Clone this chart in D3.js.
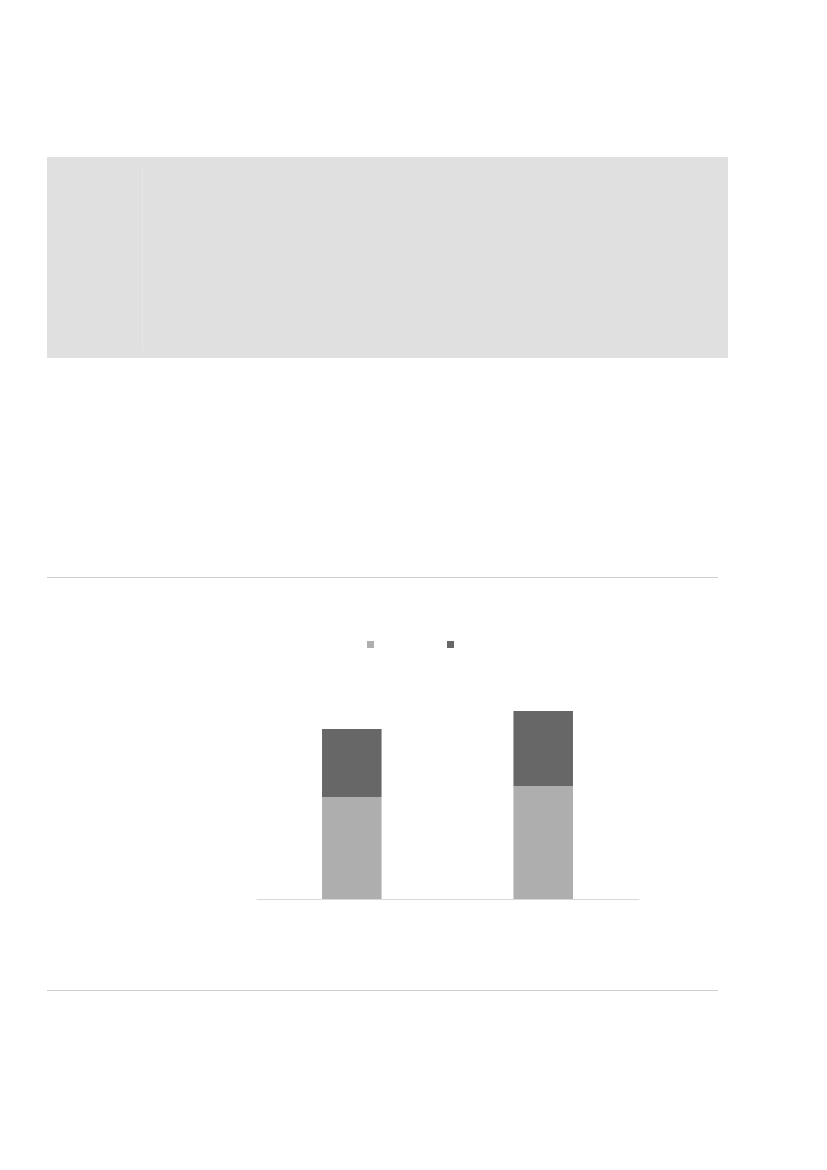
<!DOCTYPE html>
<html>
<head>
<meta charset="utf-8">
<script src="https://cdn.jsdelivr.net/npm/d3@7"></script>
<style>
  html, body { margin: 0; padding: 0; background: #fff; }
  svg { display: block; }
</style>
</head>
<body>
<svg id="page" width="827" height="1170"></svg>
<script>
// data (no labels are shown in the reference)
const categories = ["A", "B"];
const seriesNames = ["lower", "upper"];
const lowerValues = [102, 113];
const upperValues = [68, 75];
const colors = ["#afaeae", "#676767"];

const svg = d3.select("#page");

// grey header panel with its faint inner divider
svg.append("rect")
  .attr("x", 47).attr("y", 157).attr("width", 681).attr("height", 201)
  .attr("fill", "#e0e0e0");
svg.append("line")
  .attr("x1", 142.5).attr("x2", 142.5).attr("y1", 167).attr("y2", 350)
  .attr("stroke", "#e6e6e6");

// horizontal rules around the chart
for (const y of [577.5, 990.5]) {
  svg.append("line")
    .attr("x1", 47).attr("x2", 718).attr("y1", y).attr("y2", y)
    .attr("stroke", "#cfcfcf");
}

// stacked bars
const table = categories.map((c, i) => ({ cat: c, lower: lowerValues[i], upper: upperValues[i] }));
const stacked = d3.stack().keys(seriesNames)(table);

const x = d3.scaleBand().domain(categories).range([256, 639])
  .paddingInner(0.689).paddingOuter(0.345);
const y = d3.scaleLinear().domain([0, 200]).range([899, 699]);

svg.append("g")
  .selectAll("g")
  .data(stacked)
  .join("g")
  .attr("fill", (d, i) => colors[i])
  .selectAll("rect")
  .data((d) => d)
  .join("rect")
  .attr("x", (d) => x(d.data.cat))
  .attr("width", x.bandwidth())
  .attr("y", (d) => y(d[1]))
  .attr("height", (d) => y(d[0]) - y(d[1]));

// baseline axis
const axis = svg.append("g")
  .attr("transform", `translate(0,${y(0)})`)
  .call(d3.axisBottom(x).tickSize(0).tickFormat(""));
axis.select(".domain").attr("stroke", "#d9d9d9");

// legend swatches
const legend = d3.scaleOrdinal().domain(seriesNames).range([367, 447]);
svg.append("g")
  .selectAll("rect")
  .data(seriesNames)
  .join("rect")
  .attr("x", (d) => legend(d))
  .attr("y", 641)
  .attr("width", 7).attr("height", 7)
  .attr("fill", (d, i) => colors[i]);
</script>
</body>
</html>
